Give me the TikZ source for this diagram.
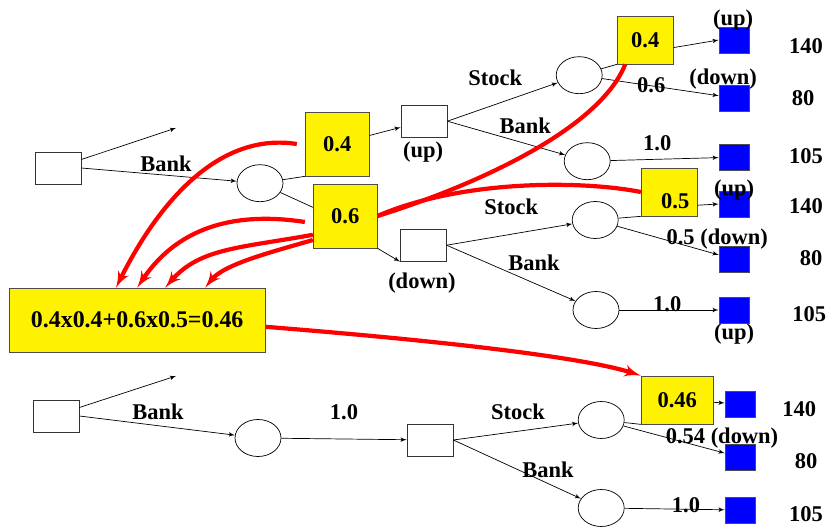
\documentclass[tikz,border=0pt]{standalone}
\usepackage{fontspec}
\setmainfont{Liberation Serif}
\usepackage{tikz}
\usetikzlibrary{shapes,arrows}
\tikzstyle{line} = [draw, -latex']
\tikzstyle{redline} = [draw=red, line width=3pt]
\tikzstyle{redarrow} = [draw=red, line width=3pt, -latex']
\tikzstyle{act} = [draw=black!80, inner sep=0pt, minimum width=1.15cm, minimum height=.8cm]
\tikzstyle{chance} = [draw, ellipse, inner sep=0pt, minimum width=1.15cm, minimum height=.925cm]
\tikzstyle{prob} = [draw=black!70, fill=yellow, inner sep=0pt]
\tikzstyle{payoff} = [draw=black!70, fill=blue, inner sep=0pt, minimum width=.75cm, minimum height=.65cm]

\begin{document}
\begin{tikzpicture}[font=\bfseries\fontsize{16}{19}\selectfont, line width=.5pt]
\useasboundingbox (0,0) rectangle (20.725,-13.175);
% first tree
\node[act] (a1) at (1.45,-4.2) {};
\coordinate (free1) at (4.4,-3.2);
\node[chance] (c1) at (6.5,-4.58) {};
\node[prob, minimum width=1.6cm, minimum height=1.6cm] (p1) at (8.43,-3.6) {0.4};
\node[prob, minimum width=1.6cm, minimum height=1.6cm] (p2) at (8.63,-5.4) {0.6};
\node[act] (u1) at (10.6,-3.03) {};
\node[act] (d1) at (10.58,-6.13) {};
\node[chance] (s1) at (14.48,-1.88) {};
\node[chance] (b1) at (14.68,-4.03) {};
\node[prob, minimum width=1.4cm, minimum height=1.2cm] (q1) at (16.13,-1.0) {0.4};
\node[payoff] (t1) at (18.35,-1.0) {};
\node[payoff] (t2) at (18.35,-2.45) {};
\node[payoff] (t3) at (18.35,-3.93) {};
\node[chance] (s2) at (14.88,-5.5) {};
\node[chance] (b2) at (14.9,-7.75) {};
\node[prob, minimum width=1.4cm, minimum height=1.2cm] (q2) at (16.73,-4.8) {\hspace{.3cm}\raisebox{-.42cm}[0pt][0pt]{0.5}};
\node[payoff] (t4) at (18.35,-5.1) {};
\node[payoff] (t5) at (18.35,-6.48) {};
\node[payoff] (t6) at (18.35,-7.75) {};
%
\node (bank1) at (4.15,-4.1) {Bank};
\node (up1) at (10.58,-3.8) {(up)};
\node (down1) at (10.55,-7.08) {(down)};
\node (stock1) at (12.38,-1.95) {Stock};
\node (bank2) at (13.13,-3.15) {Bank};
\node (pr1) at (16.28,-2.13) {0.6};
\node (up2) at (18.33,-.5) {(up)};
\node (down2) at (18.08,-1.98) {(down)};
\node (v1) at (20.15,-1.15) {140};
\node (v2) at (20.08,-2.45) {80};
\node (pr2) at (16.43,-3.58) {1.0};
\node (v3) at (20.15,-3.9) {105};
\node (stock2) at (12.78,-5.18) {Stock};
\node (bank3) at (13.35,-6.58) {Bank};
\node (up3) at (18.35,-4.75) {(up)};
\node (v4) at (20.15,-5.15) {140};
\node (pr3) at (17.93,-5.98) {0.5 (down)};
\node (v5) at (20.28,-6.45) {80};
\node (pr4) at (16.68,-7.6) {1.0};
\node (v6) at (20.23,-7.85) {105};
\node (up4) at (18.35,-8.35) {(up)};
%
\draw[line] (a1.20) -- (free1);
\draw[line] (a1.east) -- (c1);
\draw (c1) -- (p1.south west);
\draw (c1) -- (p2.165);
\draw[line] (p1) -- (u1);
\draw[line] (p2.south east) -- (d1.south west);
\draw[line] (u1.east) -- (s1);
\draw[line] (u1.east) -- (b1);
\draw (s1) -- (q1.south west);
\draw[line] (q1.345) -- (t1.west);
\draw[line] (s1) -- (t2);
\draw[line] (b1) -- (t3);
\draw[line] (d1.east) -- (s2);
\draw[line] (d1.east) -- (b2);
\draw (s2) -- (q2.south west);
\draw[line] (q2.335) -- (t4.west);
\draw[line] (s2) -- (t5);
\draw[line] (b2) -- (t6);
% formula
\node[prob, minimum width=6.4cm, minimum height=1.6cm] (f) at (3.43,-8.0) {\fontsize{17}{20}\selectfont 0.4x0.4+0.6x0.5=0.46\hspace{.2cm}};
% second tree
\node[act] (a2) at (1.4,-10.4) {};
\coordinate (free2) at (4.4,-9.4);
\node[chance] (c2) at (6.45,-10.95) {};
\node[act] (m2) at (10.75,-11.0) {};
\node[chance] (s3) at (15.03,-10.5) {};
\node[chance] (b3) at (15.03,-12.7) {};
\node[prob, minimum width=1.8cm, minimum height=1.2cm] (r) at (16.93,-10.0) {0.46};
\node[payoff] (t7) at (18.5,-10.1) {};
\node[payoff] (t8) at (18.5,-11.43) {};
\node[payoff] (t9) at (18.5,-12.75) {};
%
\node (bank4) at (3.95,-10.3) {Bank};
\node (pr5) at (8.6,-10.3) {1.0};
\node (stock3) at (12.95,-10.3) {Stock};
\node (bank5) at (13.7,-11.75) {Bank};
\node (pr6) at (18.05,-10.95) {0.54 (down)};
\node (v7) at (19.98,-10.23) {140};
\node (v8) at (20.15,-11.53) {80};
\node (pr7) at (17.15,-12.63) {1.0};
\node (v9) at (20.15,-12.85) {105};
%
\draw[line] (a2.20) -- (free2);
\draw[line] (a2.east) -- (c2);
\draw[line] (c2) -- (m2);
\draw[line] (m2.east) -- (s3);
\draw[line] (m2.east) -- (b3);
\draw (s3) -- (r.south west);
\draw[line] (r) -- (t7);
\draw[line] (s3) -- (t8);
\draw[line] (b3) -- (t9);
% red links
\draw[redarrow] ([xshift=-.2cm]p1.west) .. controls (5.5,-3.3) and (4.0,-5.0) .. ([xshift=-.53cm]f.north);
\draw[redarrow] ([xshift=-.2cm,yshift=-.15cm]p2.west) .. controls (6.0,-5.3) and (4.5,-5.6) .. (f.north);
\draw[redarrow] ([yshift=-.47cm]p2.west) .. controls (6.0,-6.2) and (5.0,-6.2) .. ([xshift=.7cm]f.north);
\draw[redarrow] ([yshift=-.6cm]p2.west) .. controls (6.8,-6.3) and (5.6,-6.6) .. ([xshift=1.7cm]f.north);
\draw[redline] (p2.east) .. controls (12.0,-4.6) and (15.0,-3.2) .. ([xshift=-.5cm]q1.south);
\draw[redline] (p2.east) .. controls (11.5,-4.5) and (14.5,-4.5) .. (q2.west);
\draw[redarrow] ([yshift=-.17cm]f.east) .. controls (12.0,-8.6) and (14.8,-9.0) .. (r.north west);
\end{tikzpicture}
\end{document}
